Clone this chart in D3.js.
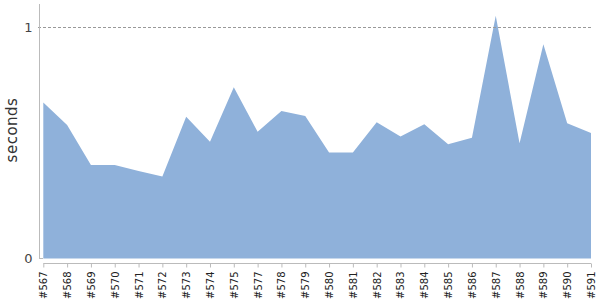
<!DOCTYPE html>
<html>
<head>
<meta charset="utf-8">
<script src="https://cdn.jsdelivr.net/npm/d3@7"></script>
<style>
  html, body { margin: 0; padding: 0; background: #fff; }
  svg { display: block; font-family: "DejaVu Sans", sans-serif; }
</style>
</head>
<body>
<svg id="chart" width="600" height="300"></svg>
<script>
const builds = ["#567","#568","#569","#570","#571","#572","#573","#574","#575","#577","#578","#579",
                "#580","#581","#582","#583","#584","#585","#586","#587","#588","#589","#590","#591"];
const seconds = [0.674,0.577,0.404,0.404,0.378,0.354,0.613,0.505,0.740,0.548,0.638,0.616,
                 0.458,0.458,0.589,0.527,0.580,0.494,0.522,1.049,0.498,0.926,0.585,0.542];
const yTicks = [0, 1];
const yMax = 1.1;
const yTitle = "seconds";

const svg = d3.select("#chart");
const x = d3.scalePoint().domain(builds).range([43.3, 591]);
const y = d3.scaleLinear().domain([0, yMax]).range([258.5, 4]);

// area
const area = d3.area()
  .x((d, i) => x(builds[i]))
  .y0(y(0))
  .y1(d => y(d));
svg.append("path")
  .datum(seconds)
  .attr("d", area)
  .attr("fill", "#8fb1da");

// dashed gridline at 1
yTicks.filter(t => t > 0).forEach(t => {
  svg.append("line")
    .attr("x1", 38).attr("x2", 591)
    .attr("y1", Math.round(y(t)) + 0.5).attr("y2", Math.round(y(t)) + 0.5)
    .attr("stroke", "#999").attr("stroke-width", 1)
    .attr("stroke-dasharray", "3,2");
});

// y axis
const yAxis = d3.axisLeft(y).tickValues(yTicks).tickSize(0).tickPadding(7).tickFormat(d3.format("d"));
const gy = svg.append("g").attr("transform", "translate(39.5,0)").call(yAxis);
gy.select(".domain").attr("stroke", "#bbb").attr("d", "M0,4V259");
gy.selectAll(".tick text").attr("font-size", 13).attr("fill", "#444")
  .attr("font-family", "DejaVu Sans, sans-serif");
// inward tick at 0
svg.append("line").attr("x1", 39.5).attr("x2", 43).attr("y1", y(0)).attr("y2", y(0))
  .attr("stroke", "#bbb");

// x axis
const xAxis = d3.axisBottom(x).tickSize(4).tickPadding(3);
const gx = svg.append("g").attr("transform", "translate(0,263.5)").call(xAxis);
gx.select(".domain").attr("stroke", "#bbb").attr("d", "M43.3,0H591");
gx.selectAll(".tick line").attr("stroke", "#bbb");
gx.selectAll(".tick text")
  .attr("font-size", 10).attr("fill", "#222")
  .attr("font-family", "DejaVu Sans, sans-serif")
  .attr("text-anchor", "end")
  .attr("transform", "rotate(-90)")
  .attr("x", -8).attr("y", 0).attr("dy", "0.35em");

// y title
svg.append("text")
  .attr("transform", "translate(17,130) rotate(-90)")
  .attr("text-anchor", "middle")
  .attr("font-size", 15)
  .attr("fill", "#333")
  .attr("letter-spacing", 0.5)
  .text(yTitle);
</script>
</body>
</html>
